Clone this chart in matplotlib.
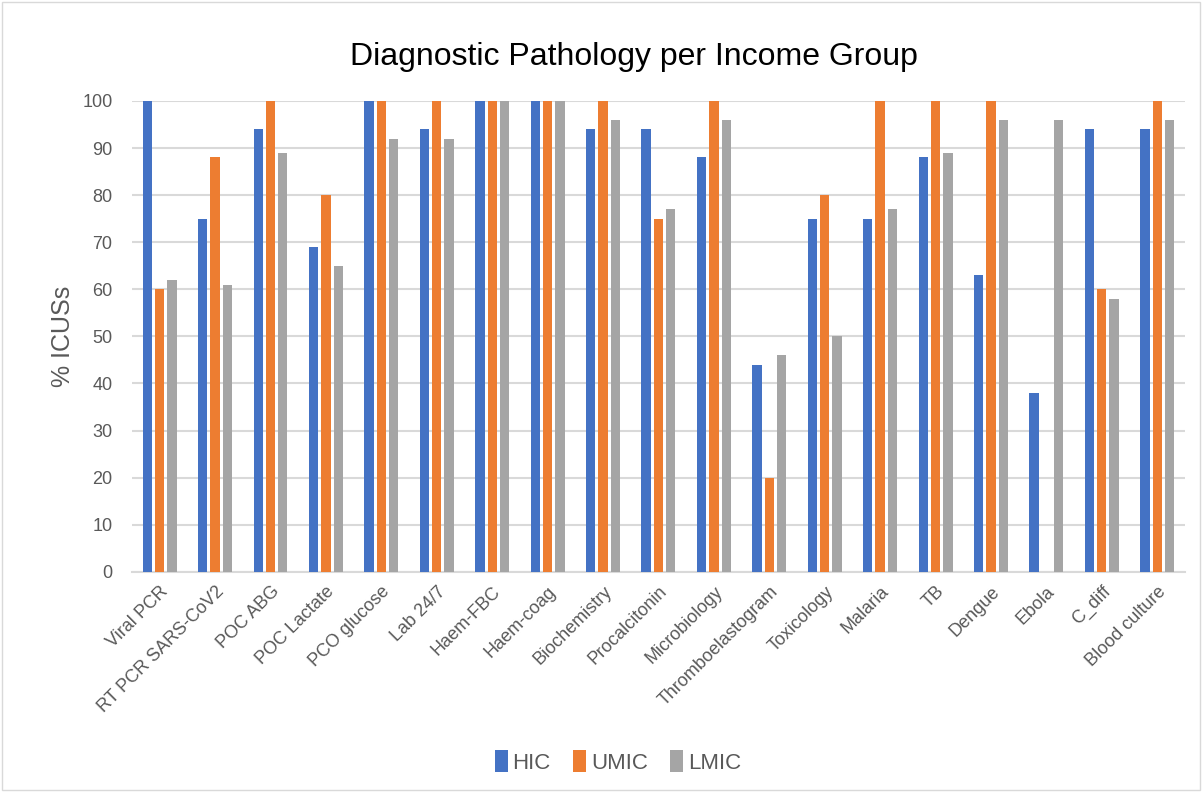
import numpy as np
import matplotlib.pyplot as plt
from matplotlib.patches import Rectangle

plt.rcParams['font.family'] = ['Liberation Sans', 'DejaVu Sans']

tests = ["Viral PCR", "RT PCR SARS-CoV2", "POC ABG", "POC Lactate", "PCO glucose",
         "Lab 24/7", "Haem-FBC", "Haem-coag", "Biochemistry", "Procalcitonin",
         "Microbiology", "Thromboelastogram", "Toxicology", "Malaria", "TB",
         "Dengue", "Ebola", "C_diff", "Blood culture"]
hic = [100, 75, 94, 69, 100, 94, 100, 100, 94, 94, 88, 44, 75, 75, 88, 63, 38, 94, 94]
umic = [60, 88, 100, 80, 100, 100, 100, 100, 100, 75, 100, 20, 80, 100, 100, 100, 0, 60, 100]
lmic = [62, 61, 89, 65, 92, 92, 100, 100, 96, 77, 96, 46, 50, 77, 89, 96, 96, 58, 96]

series = [("HIC", hic, "#4472C4"), ("UMIC", umic, "#ED7D31"), ("LMIC", lmic, "#A5A5A5")]

fig = plt.figure(figsize=(12.02, 7.92), dpi=100)
ax = fig.add_axes([0.1098, 0.278, 0.876, 0.5945])

x = np.arange(len(tests))
w = 0.168
step = 0.222
for i, (name, vals, col) in enumerate(series):
    ax.bar(x + (i - 1) * step, vals, w, color=col, label=name, zorder=3)

ax.set_xlim(-0.5, len(tests) - 0.5)
ax.set_ylim(0, 100)
ax.set_yticks(range(0, 101, 10))
ax.yaxis.grid(True, color="#d9d9d9", linewidth=1.5, zorder=0)
ax.set_axisbelow(True)
for s in ["top", "right", "left"]:
    ax.spines[s].set_visible(False)
ax.spines["bottom"].set_color("#d9d9d9")
ax.spines["bottom"].set_linewidth(1.5)
ax.tick_params(length=0, colors="#595959", labelsize=13)
ax.tick_params(axis="y", pad=14)
ax.tick_params(axis="x", pad=8)
ax.set_xticks(x)
ax.set_xticklabels(tests, rotation=45, ha="right", rotation_mode="anchor")

ax.set_ylabel("% ICUSs", fontsize=18, color="#595959")
ax.yaxis.set_label_coords(-0.054, 0.5)
fig.text(0.527, 0.928, "Diagnostic Pathology per Income Group", ha="center", va="center",
         fontsize=23, color="#000000")

fig.legend(loc="center", bbox_to_anchor=(0.514, 0.038), ncol=3, frameon=False,
           fontsize=16, handlelength=0.6, handleheight=1.1, handletextpad=0.2,
           columnspacing=1.0, labelcolor="#595959")

fig.patches.append(Rectangle((0.002, 0.003), 0.996, 0.994, transform=fig.transFigure,
                             fill=False, edgecolor="#d9d9d9", linewidth=1))

fig.savefig("out.png", dpi=100)
